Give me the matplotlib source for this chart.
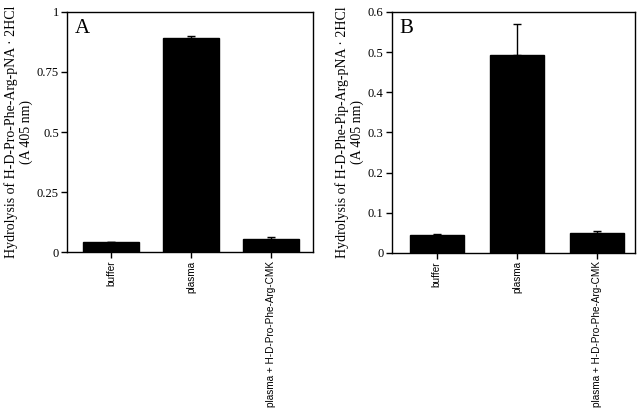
import matplotlib
matplotlib.use("Agg")
import matplotlib.pyplot as plt
import numpy as np

categories = ["buffer", "plasma", "plasma + H-D-Pro-Phe-Arg-CMK"]
values_a = [0.043, 0.893, 0.054]
errors_a = [0.0, 0.008, 0.008]
values_b = [0.044, 0.494, 0.049]
errors_b = [0.004, 0.075, 0.006]
yticks_a = [0, 0.25, 0.5, 0.75, 1]
yticklabels_a = ["0", "0.25", "0.5", "0.75", "1"]
yticks_b = [0, 0.1, 0.2, 0.3, 0.4, 0.5, 0.6]
yticklabels_b = ["0", "0.1", "0.2", "0.3", "0.4", "0.5", "0.6"]
ylabel_a = "Hydrolysis of H-D-Pro-Phe-Arg-pNA \u00b7 2HCl\n(A 405 nm)"
ylabel_b = "Hydrolysis of H-D-Phe-Pip-Arg-pNA \u00b7 2HCl\n(A 405 nm)"

fig = plt.figure(figsize=(6.4, 4.12), dpi=100)
ax_a = fig.add_axes([0.105, 0.388, 0.384, 0.583])
ax_b = fig.add_axes([0.6125, 0.386, 0.380, 0.585])

serif = "Liberation Serif"
sans = "Liberation Sans"

def draw(ax, vals, errs, yt, ytl, ylim, ylabel, letter, xlim, width):
    x = np.arange(len(categories))
    ax.bar(x, vals, width=width, color="black", edgecolor="black", zorder=2)
    ax.errorbar(x, vals, yerr=[np.zeros(len(errs)), errs], fmt="none",
                ecolor="black", elinewidth=1, capsize=3, capthick=1, zorder=3)
    ax.set_xlim(*xlim)
    ax.set_ylim(*ylim)
    ax.set_yticks(yt)
    ax.set_yticklabels(ytl, fontfamily=serif, fontsize=9)
    ax.set_xticks(x)
    ax.set_xticklabels(categories, rotation=90, fontfamily=sans, fontsize=7.2)
    ax.tick_params(axis="both", direction="out", length=4, width=1, top=False, right=False, pad=2)
    ax.set_ylabel(ylabel, fontfamily=serif, fontsize=10, labelpad=3, linespacing=1.1)
    for s in ax.spines.values():
        s.set_linewidth(1)
    ax.text(0.03, 0.97, letter, transform=ax.transAxes, ha="left", va="top",
            fontfamily=serif, fontsize=15)

draw(ax_a, values_a, errors_a, yticks_a, yticklabels_a, (0, 1), ylabel_a, "A", (-0.55, 2.525), 0.7)
draw(ax_b, values_b, errors_b, yticks_b, yticklabels_b, (0, 0.6), ylabel_b, "B", (-0.56, 2.475), 0.68)

fig.savefig("out.png", dpi=100)
